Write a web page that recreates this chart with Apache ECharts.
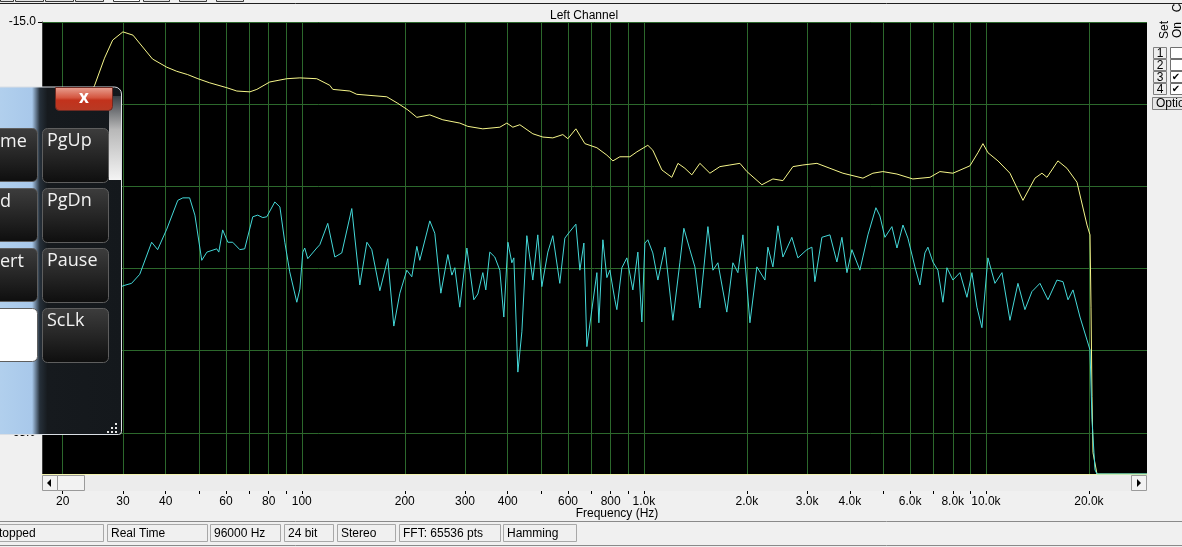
<!DOCTYPE html>
<html><head><meta charset="utf-8">
<script src="https://cdn.jsdelivr.net/npm/echarts@6/dist/echarts.min.js"></script>
<style>html,body{margin:0;padding:0;background:#f0f0f0;overflow:hidden}#c{width:1182px;height:547px}</style>
</head><body><div id="c"></div>
<script>
// ---- data (frequency in Hz, level in dB) ----
const FREQ_MIN = 17.4, FREQ_MAX = 29570;
const DB_MIN = -70, DB_MAX = -15;
const gridFreqs = [20,30,40,50,60,70,80,90,100,200,300,400,500,600,700,800,900,1000,2000,3000,4000,5000,6000,7000,8000,9000,10000,20000];
const labelFreqs = [20,30,40,60,80,100,200,300,400,600,800,1000,2000,3000,4000,6000,8000,10000,20000];
const labelTexts = ['20','30','40','60','80','100','200','300','400','600','800','1.0k','2.0k','3.0k','4.0k','6.0k','8.0k','10.0k','20.0k'];
const dbTicks = [-65,-55,-45,-35,-25,-15];

const yellowTrace = [[17.4,-38],[19.6,-31.8],[22.4,-26.3],[24.8,-22.7],[26.5,-19.4],[28.0,-17.2],[30.0,-16.2],[32.1,-16.6],[36.6,-19.5],[40.3,-20.5],[43.1,-21.0],[46.4,-21.4],[49.7,-21.9],[53.8,-22.4],[60.4,-23.0],[64.6,-23.4],[70.5,-23.5],[73.9,-23.2],[80.6,-22.3],[90.4,-21.9],[98.7,-21.8],[110.6,-21.9],[120.7,-22.7],[123.2,-23.2],[138.2,-23.4],[144.8,-23.8],[177.2,-24.1],[190.9,-24.9],[204.2,-25.7],[216.9,-26.6],[236.7,-26.3],[258.4,-26.9],[289.7,-27.3],[305.8,-27.7],[338.2,-28.0],[379.3,-27.8],[397.6,-27.3],[414.0,-27.8],[434.0,-27.5],[473.6,-28.6],[506.6,-29.0],[541.9,-29.1],[579.7,-28.7],[599.6,-29.2],[632.8,-28.0],[672.3,-29.8],[728.9,-30.3],[779.6,-31.2],[811.8,-31.9],[850.8,-31.4],[910.2,-31.4],[954.0,-30.8],[1027,-30.0],[1062,-30.6],[1129,-33.0],[1207,-33.9],[1258,-32.2],[1318,-32.8],[1381,-33.6],[1458,-32.2],[1560,-33.4],[1668,-32.6],[1784,-32.4],[1909,-32.2],[2001,-33.2],[2213,-34.8],[2384,-34.1],[2550,-34.3],[2727,-32.6],[2917,-32.4],[3206,-32.2],[3499,-32.8],[3818,-33.4],[4370,-34.0],[4673,-33.4],[4997,-33.2],[5494,-33.5],[6114,-34.1],[6860,-33.9],[7336,-33.2],[8008,-33.4],[8978,-32.5],[9476,-30.9],[9800,-29.8],[10134,-30.9],[10842,-31.9],[11755,-33.4],[12831,-36.7],[13910,-34.0],[14580,-33.4],[15080,-33.9],[16236,-31.9],[17252,-32.8],[18458,-34.5],[19745,-39.7],[20148,-40.9],[20285,-49.7],[20420,-60.6],[20558,-67.4],[21118,-70.0],[29570,-70.0]];

const cyanTrace = [[17.4,-53],[22.4,-50.0],[25.7,-48.8],[28.4,-47.8],[30.0,-47.1],[31.8,-46.8],[33.6,-45.7],[36.4,-41.8],[37.9,-42.7],[40.3,-40.2],[43.4,-36.7],[44.9,-36.4],[47.0,-36.4],[48.7,-38.5],[51.0,-44.0],[52.8,-43.0],[56.4,-42.6],[57.2,-43.0],[58.7,-40.3],[60.8,-41.8],[62.8,-41.8],[65.9,-42.7],[68.1,-42.6],[71.9,-38.7],[74.3,-38.5],[76.9,-38.8],[79.0,-38.7],[83.4,-36.9],[86.3,-37.5],[89.2,-41.8],[92.2,-45.4],[96.7,-49.1],[98.7,-47.5],[100.7,-43.0],[102.0,-42.5],[104.1,-43.8],[110.6,-42.5],[112.9,-42.1],[119.1,-39.5],[124.9,-43.6],[130.9,-43.1],[140.0,-37.7],[147.8,-47.0],[155.0,-41.8],[160.2,-42.7],[169.1,-47.7],[178.4,-43.8],[185.8,-52.0],[193.5,-48.0],[202.8,-45.2],[209.7,-46.0],[216.9,-42.3],[221.3,-44.0],[236.7,-39.2],[244.8,-40.7],[255.0,-48.0],[267.3,-43.3],[274.6,-45.8],[280.2,-44.9],[289.7,-49.7],[303.8,-42.5],[318.4,-48.8],[327.1,-48.1],[338.2,-45.5],[345.1,-47.6],[354.5,-43.0],[366.6,-43.6],[379.3,-45.2],[389.6,-50.9],[400.5,-41.8],[411.2,-44.3],[416.8,-43.7],[428.2,-57.6],[439.9,-52.7],[454.9,-41.0],[473.6,-46.4],[489.7,-40.9],[503.2,-47.2],[524.0,-43.0],[541.9,-41.0],[567.9,-46.8],[587.5,-41.3],[607.6,-40.5],[632.8,-39.6],[650.1,-45.2],[667.8,-41.9],[681.4,-54.5],[704.7,-50.0],[728.9,-45.5],[738.7,-51.6],[758.9,-41.5],[779.6,-46.1],[795.5,-45.2],[822.6,-48.8],[833.8,-50.0],[862.4,-44.9],[891.9,-43.7],[928.6,-47.6],[960.5,-43.0],[986.7,-51.5],[1007,-41.9],[1027,-41.5],[1062,-43.1],[1099,-46.4],[1152,-42.4],[1216,-51.3],[1274,-44.3],[1309,-40.1],[1363,-42.7],[1410,-44.8],[1458,-49.8],[1539,-39.9],[1592,-45.2],[1646,-44.3],[1748,-50.3],[1821,-44.3],[1883,-45.5],[1948,-40.9],[2042,-51.6],[2140,-44.8],[2259,-46.4],[2305,-42.4],[2384,-44.8],[2465,-39.8],[2550,-43.6],[2708,-41.2],[2820,-43.7],[2997,-42.7],[3099,-42.4],[3162,-46.6],[3315,-41.2],[3499,-40.9],[3667,-44.2],[3793,-41.2],[3924,-45.5],[4057,-42.7],[4281,-45.2],[4519,-40.9],[4768,-37.6],[4898,-38.6],[5066,-41.2],[5310,-39.9],[5494,-42.5],[5720,-39.7],[5914,-41.3],[6200,-44.8],[6412,-47.0],[6631,-43.1],[6766,-42.4],[6998,-44.2],[7237,-45.2],[7486,-49.1],[7691,-44.9],[8008,-46.4],[8395,-45.5],[8800,-48.5],[9101,-45.5],[9412,-49.7],[9734,-52.2],[10134,-43.7],[10625,-46.8],[11140,-45.5],[11755,-51.3],[12404,-46.8],[13002,-50.0],[13630,-47.8],[14385,-46.8],[15182,-48.8],[16128,-46.4],[16797,-46.6],[17377,-48.8],[17968,-47.6],[18834,-50.9],[19745,-53.7],[20148,-54.9],[20420,-63.4],[20836,-69.5],[21118,-70.0],[29570,-70.0]];

const statusTexts = ['Stopped','Real Time','96000 Hz','24 bit','Stereo','FFT: 65536 pts','Hamming'];

// ---- chart ----
const L = Math.log10;
const toXY = arr => arr.map(p => [L(p[0]), p[1]]);
const UI = 'Liberation Sans, Arial, sans-serif';
const KB = 'Open Sans, Noto Sans, sans-serif';

function fmtFreq(v){
  let best = 0, bd = 1e9;
  labelFreqs.forEach((f,i)=>{ const d = Math.abs(L(f)-v); if(d<bd){bd=d;best=i;} });
  return labelTexts[best];
}

const chart = echarts.init(document.getElementById('c'), null, {renderer:'canvas'});

const G = []; // decorative window chrome
const z = 100;
// top toolbar remnants
[[0,13],[15,43],[45,73],[75,103],[113,139],[143,169],[179,206],[216,243]].forEach((b,i)=>{
  G.push({type:'rect', z, shape:{x:b[0]+0.5, y:-4.5, width:b[1]-b[0], height:6}, style:{fill: i===4?'#ffffff':'#e2e2e2', stroke:'#3a3a3a', lineWidth:1}});
});
G.push({type:'line', z, shape:{x1:0,y1:3.5,x2:1182,y2:3.5}, style:{stroke:'#202020', lineWidth:1}});
// scrollbar
G.push({type:'rect', z:5, shape:{x:42, y:475, width:1105, height:16}, style:{fill:'#ececec', lineWidth:0}});
G.push({type:'rect', z:6, shape:{x:42.5, y:475.5, width:15, height:15}, style:{fill:'#f2f2f2', stroke:'#9a9a9a', lineWidth:1}});
G.push({type:'polygon', z:7, shape:{points:[[47,483],[51,479],[51,487]]}, style:{fill:'#000'}});
G.push({type:'rect', z:6, shape:{x:57.5, y:475.5, width:27, height:15}, style:{fill:'#f2f2f2', stroke:'#9a9a9a', lineWidth:1}});
G.push({type:'rect', z:6, shape:{x:1131.5, y:475.5, width:15, height:15}, style:{fill:'#f2f2f2', stroke:'#9a9a9a', lineWidth:1}});
G.push({type:'polygon', z:7, shape:{points:[[1141,483],[1137,479],[1137,487]]}, style:{fill:'#000'}});
// status bar
G.push({type:'line', z, shape:{x1:0,y1:521.5,x2:1182,y2:521.5}, style:{stroke:'#8a8a8a', lineWidth:1}});
G.push({type:'line', z, shape:{x1:0,y1:545.5,x2:1182,y2:545.5}, style:{stroke:'#8a8a8a', lineWidth:1}});
const statusBoxes = [[-40,103],[107,207],[210,280],[284,333],[337,395],[399,500],[503,576]];
statusBoxes.forEach((b,i)=>{
  G.push({type:'rect', z, shape:{x:b[0]+0.5, y:524.5, width:b[1]-b[0], height:17}, style:{fill:'#f0f0f0', stroke:'#a8a8a8', lineWidth:1}});
  G.push({type:'text', z:z+1, x: i===0 ? -9 : b[0]+4, y:533.5, style:{text: statusTexts[i], font:'12px '+UI, fill:'#000', verticalAlign:'middle'}});
});
// right side panel
G.push({type:'text', z, x:1165, y:30, rotation:Math.PI/2, style:{text:'Set', font:'12px '+UI, fill:'#000', align:'center', verticalAlign:'middle'}});
G.push({type:'text', z, x:1178, y:30, rotation:Math.PI/2, style:{text:'On', font:'12px '+UI, fill:'#000', align:'center', verticalAlign:'middle'}});
G.push({type:'text', z, x:1178, y:8, rotation:Math.PI/2, style:{text:'C', font:'12px '+UI, fill:'#000', align:'center', verticalAlign:'middle'}});
[['1',47,false],['2',59,false],['3',71,true],['4',83,true]].forEach(r=>{
  G.push({type:'rect', z, shape:{x:1153.5, y:r[1]+0.5, width:13, height:11}, style:{fill:'#eeeeee', stroke:'#808080', lineWidth:1}});
  G.push({type:'text', z:z+1, x:1160, y:r[1]+6.5, style:{text:r[0], font:'12px '+UI, fill:'#000', align:'center', verticalAlign:'middle'}});
  G.push({type:'rect', z, shape:{x:1170.5, y:r[1]+0.5, width:14, height:11}, style:{fill:'#ffffff', stroke:'#707070', lineWidth:1}});
  if(r[2]) G.push({type:'text', z:z+1, x:1176, y:r[1]+6.5, style:{text:'✔', font:'bold 10px DejaVu Sans', fill:'#000', align:'center', verticalAlign:'middle'}});
});
G.push({type:'rect', z, shape:{x:1152.5, y:97.5, width:34, height:12}, style:{fill:'#e6e6e6', stroke:'#808080', lineWidth:1}});
G.push({type:'text', z:z+1, x:1156, y:104, style:{text:'Options', font:'12px '+UI, fill:'#000', verticalAlign:'middle'}});

// on-screen keyboard overlay
G.push({type:'rect', z, shape:{x:-6, y:87, width:127.5, height:347.5, r:[0,7,3,0]}, style:{fill:{type:'linear',x:0,y:0,x2:1,y2:0,colorStops:[{offset:0,color:'#b3d1ee'},{offset:0.3,color:'#a8c8ea'},{offset:0.36,color:'#26303a'},{offset:0.42,color:'#161a1e'},{offset:1,color:'#14181c'}]}, stroke:'#d9dee4', lineWidth:1}});
G.push({type:'rect', z:z+1, shape:{x:109, y:96, width:12, height:84}, style:{fill:{type:'linear',x:0,y:0,x2:0,y2:1,colorStops:[{offset:0,color:'#3a3e44'},{offset:0.4,color:'#b8b8b8'},{offset:1,color:'#f4f4f4'}]}}});
// close button
G.push({type:'rect', z:z+2, shape:{x:55.5, y:87.5, width:57, height:23, r:[0,0,4,4]}, style:{fill:{type:'linear',x:0,y:0,x2:0,y2:1,colorStops:[{offset:0,color:'#e9a394'},{offset:0.45,color:'#d4553f'},{offset:0.55,color:'#c2321c'},{offset:1,color:'#b83a24'}]}, stroke:'#6e2a22', lineWidth:1}});
G.push({type:'text', z:z+3, x:84, y:98, style:{text:'x', font:'bold 17px '+KB, fill:'#ffffff', align:'center', verticalAlign:'middle'}});
// keys
const keyRows = [128,188,248,308];
const keyTexts = [['me','PgUp'],['d','PgDn'],['ert','Pause'],['','ScLk']];
keyRows.forEach((ky,ri)=>{
  const white = ri===3;
  G.push({type:'rect', z:z+2, shape:{x:-12.5, y:ky+0.5, width:50, height:53, r:5}, style:{fill: white ? '#ffffff' : {type:'linear',x:0,y:0,x2:0,y2:1,colorStops:[{offset:0,color:'#3d3d3d'},{offset:1,color:'#0e0e0e'}]}, stroke:'#5e5e5e', lineWidth:1}});
  G.push({type:'rect', z:z+2, shape:{x:42.5, y:ky+0.5, width:66, height:54, r:5}, style:{fill:{type:'linear',x:0,y:0,x2:0,y2:1,colorStops:[{offset:0,color:'#3d3d3d'},{offset:1,color:'#0e0e0e'}]}, stroke:'#5e5e5e', lineWidth:1}});
  if(keyTexts[ri][0]) G.push({type:'text', z:z+3, x:0, y:ky+5, style:{text:keyTexts[ri][0], font:'18px '+KB, fill:'#f2f2f2'}});
  G.push({type:'text', z:z+3, x:47, y:ky+4, style:{text:keyTexts[ri][1], font:'18px '+KB, fill:'#f2f2f2'}});
});
// resize grip
[[116,425],[112,429],[116,429],[108,433],[112,433],[116,433]].forEach(p=>{
  G.push({type:'rect', z:z+2, shape:{x:p[0]-1, y:p[1]-2, width:2, height:2}, style:{fill:'#e8e8e8'}});
});

const option = {
  animation: false,
  backgroundColor: '#f0f0f0',
  title: {text:'Left Channel', left:545, top:5, textStyle:{fontSize:12, fontWeight:'normal', fontFamily:UI, color:'#000'}},
  grid: {left:42, right:35, top:22, bottom:73, show:true, backgroundColor:'#000000', borderWidth:0},
  xAxis: [{
    type:'value', min:L(FREQ_MIN), max:L(FREQ_MAX), position:'bottom', offset:17,
    name:'Frequency (Hz)', nameLocation:'middle', nameGap:17, nameMoveOverlap:false,
    nameTextStyle:{fontSize:12, fontFamily:UI, color:'#000', padding:[0,0,0,45]},
    axisLine:{show:false},
    axisTick:{show:true, customValues: gridFreqs.map(L), length:3, inside:false, lineStyle:{color:'#000'}},
    axisLabel:{customValues: labelFreqs.map(L), formatter: fmtFreq, fontSize:12, fontFamily:UI, color:'#000', margin:5},
    splitLine:{show:true, lineStyle:{color:'#2c682c', width:1}}
  },{
    type:'value', min:L(FREQ_MIN), max:L(FREQ_MAX), position:'bottom', offset:0,
    axisLine:{show:true, lineStyle:{color:'#f4f4b0', width:1}},
    axisTick:{show:false}, axisLabel:{show:false}, splitLine:{show:false}
  }],
  yAxis: {
    type:'value', min:DB_MIN, max:DB_MAX,
    axisLine:{show:true, lineStyle:{color:'#3c3c3c'}},
    axisTick:{show:true, customValues: dbTicks, length:4, lineStyle:{color:'#000'}},
    axisLabel:{customValues: dbTicks, formatter: v => v.toFixed(1), fontSize:12, fontFamily:UI, color:'#000', margin:6},
    splitLine:{show:true, lineStyle:{color:'#2c682c', width:1}}
  },
  series: [
    {name:'Set 3', type:'line', xAxisIndex:0, data: toXY(yellowTrace), symbol:'none', lineStyle:{color:'#f6f68a', width:1}, itemStyle:{color:'#f6f68a'}, silent:true, z:3},
    {name:'Set 4', type:'line', xAxisIndex:0, data: toXY(cyanTrace), symbol:'none', lineStyle:{color:'#44d8d8', width:1}, itemStyle:{color:'#44d8d8'}, silent:true, z:4}
  ],
  graphic: {elements: G}
};
chart.setOption(option);
</script>
</body></html>
